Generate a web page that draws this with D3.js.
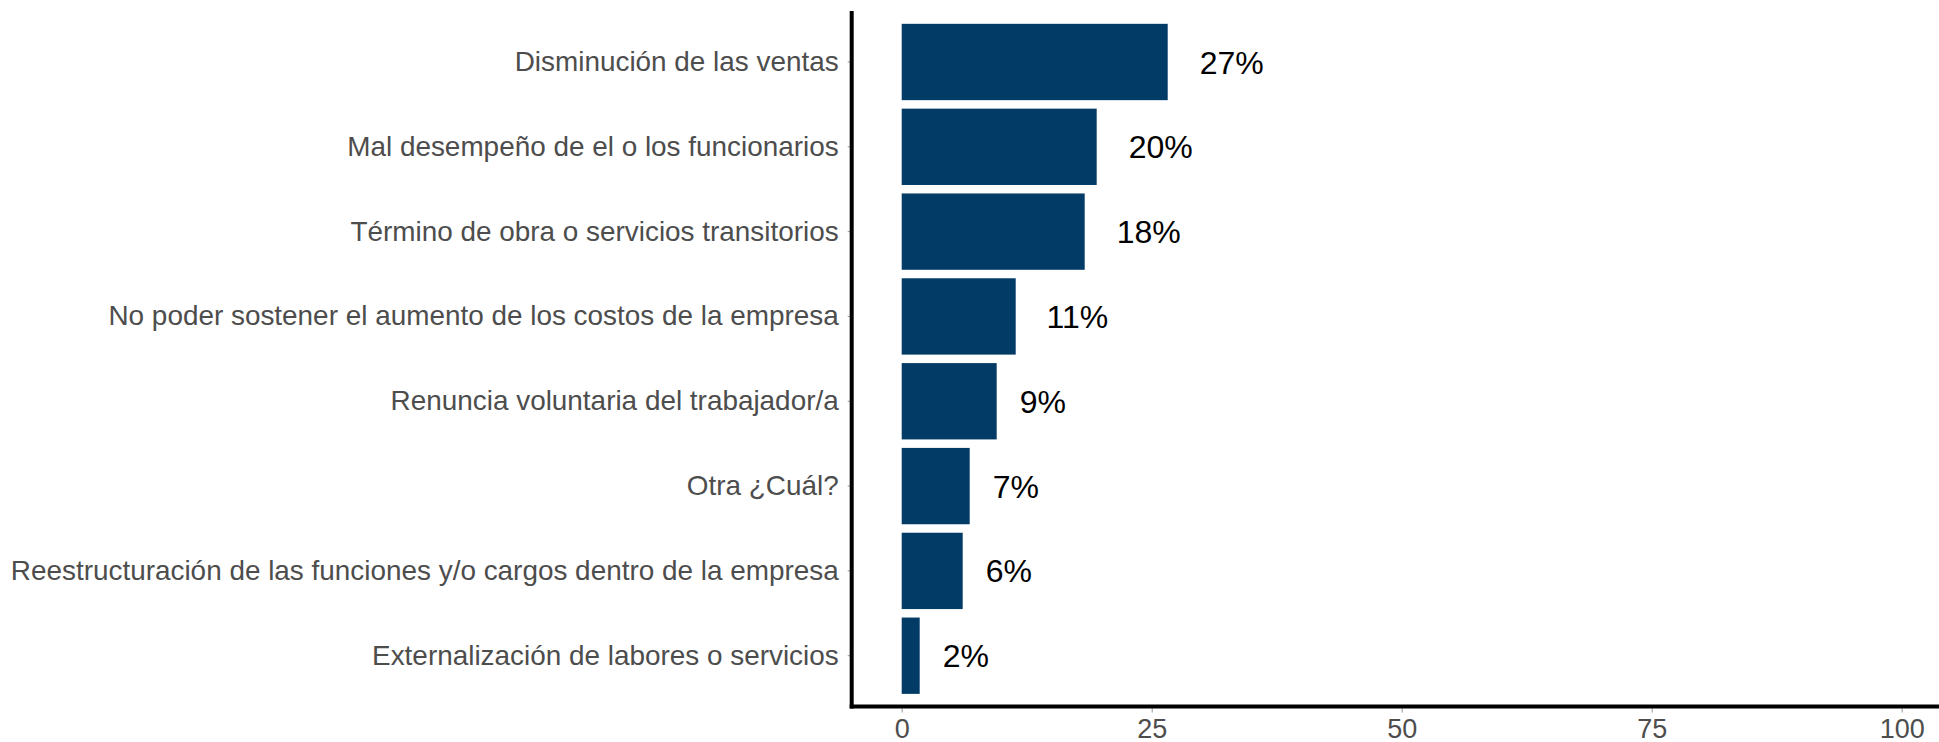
<!DOCTYPE html>
<html>
<head>
<meta charset="utf-8">
<script src="https://cdn.jsdelivr.net/npm/d3@7"></script>
<style>
  body { margin: 0; background: #fff; }
  svg { display: block; font-family: "Liberation Sans", Arial, sans-serif; }
</style>
</head>
<body>
<svg id="chart" width="1939" height="742"></svg>
<script>
// categories top to bottom
var categories = [
  "Disminución de las ventas",
  "Mal desempeño de el o los funcionarios",
  "Término de obra o servicios transitorios",
  "No poder sostener el aumento de los costos de la empresa",
  "Renuncia voluntaria del trabajador/a",
  "Otra ¿Cuál?",
  "Reestructuración de las funciones y/o cargos dentro de la empresa",
  "Externalización de labores o servicios"
];
var values = [26.6, 19.5, 18.3, 11.4, 9.5, 6.8, 6.1, 1.8];
var valueLabels = ["27%", "20%", "18%", "11%", "9%", "7%", "6%", "2%"];
var xTicks = [0, 25, 50, 75, 100];

var svg = d3.select("#chart");
var mLeft = 851.7, mTop = 11.1, mBottom = 706.6;

// ggplot style: 5% expansion on the value axis
var xSl = d3.scaleLinear().domain([-5, 105]).range([mLeft, mLeft + 1100]);
var ySl = d3.scaleBand().domain(categories).range([mTop, mBottom])
  .paddingInner(0.1).paddingOuter(0.15);

svg.selectAll("rect.bar")
  .data(values)
  .enter()
  .append("rect")
  .attr("class", "bar")
  .attr("x", xSl(0))
  .attr("y", (d, i) => ySl(categories[i]))
  .attr("width", d => xSl(d) - xSl(0))
  .attr("height", ySl.bandwidth())
  .attr("fill", "#033b67");

// value labels, hjust = -0.5
svg.selectAll("text.val")
  .data(values)
  .enter()
  .append("text")
  .attr("class", "val")
  .attr("y", (d, i) => ySl(categories[i]) + ySl.bandwidth() / 2)
  .attr("dy", "0.36em")
  .attr("font-size", 32)
  .attr("fill", "#000")
  .text((d, i) => valueLabels[i])
  .attr("x", function (d) {
    return xSl(d) + this.getComputedTextLength() / 2;
  });

// y axis
var yAxis = svg.append("g")
  .attr("transform", "translate(" + mLeft + ",0)")
  .call(d3.axisLeft(ySl).tickSize(4).tickSizeOuter(0).tickPadding(9));
yAxis.select(".domain").remove();
yAxis.selectAll(".tick line").attr("stroke", "#999");
yAxis.selectAll(".tick text")
  .attr("font-size", 27.9)
  .attr("font-family", "Liberation Sans, Arial, sans-serif")
  .attr("fill", "#4d4d4d");

// x axis
var xAxis = svg.append("g")
  .attr("transform", "translate(0," + mBottom + ")")
  .call(d3.axisBottom(xSl).tickValues(xTicks).tickSize(6).tickSizeOuter(0).tickPadding(6));
xAxis.select(".domain").remove();
xAxis.selectAll(".tick line").attr("stroke", "#999");
xAxis.selectAll(".tick text")
  .attr("font-size", 27)
  .attr("font-family", "Liberation Sans, Arial, sans-serif")
  .attr("fill", "#4d4d4d");

// axis lines
svg.append("line")
  .attr("x1", mLeft).attr("x2", mLeft)
  .attr("y1", mTop).attr("y2", mBottom + 2)
  .attr("stroke", "#000").attr("stroke-width", 4);
svg.append("line")
  .attr("x1", mLeft - 2).attr("x2", 1939)
  .attr("y1", mBottom).attr("y2", mBottom)
  .attr("stroke", "#000").attr("stroke-width", 4);
</script>
</body>
</html>
